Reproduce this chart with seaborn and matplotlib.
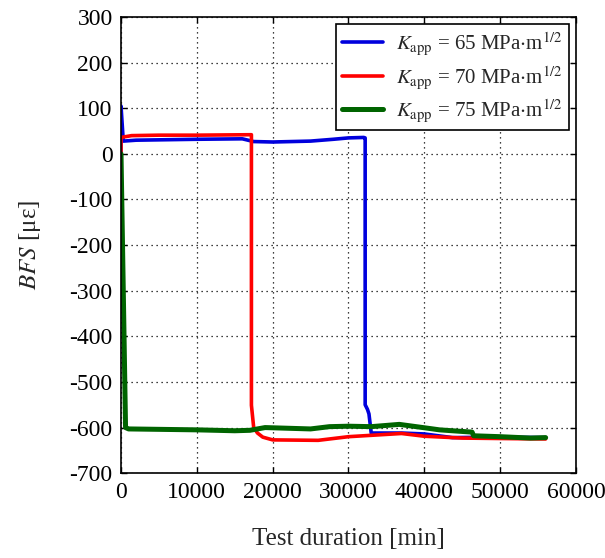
import numpy as np
import pandas as pd
import matplotlib
matplotlib.use("Agg")
import matplotlib.pyplot as plt
import seaborn as sns

# ---- data ----
labels = [r"$K_{\mathrm{app}}$ = 65 MPa$\cdot$m$^{1/2}$",
          r"$K_{\mathrm{app}}$ = 70 MPa$\cdot$m$^{1/2}$",
          r"$K_{\mathrm{app}}$ = 75 MPa$\cdot$m$^{1/2}$"]
colors = ["#0000dd", "#ff0000", "#006400"]

t65 = [0, 0, 300, 2000, 10000, 16000, 17500, 20000, 25000, 28000, 30000, 32000,
       32200, 32200, 32500, 32700, 33000, 37000, 40000, 43700, 50000, 56000]
v65 = [0, 105, 28, 30, 32, 33, 27, 26, 28, 32, 35, 36,
       35, -550, -560, -570, -612, -612, -614, -622, -621, -622]

t70 = [0, 0, 1400, 5000, 10000, 17200, 17200, 17500, 18000, 18700, 20000, 26000,
       30000, 37000, 40000, 45000, 50000, 56000]
v70 = [0, 36, 40, 41, 41, 42, -551, -600, -612, -621, -627, -628,
       -620, -613, -619, -623, -624, -625]

t75 = [0, 600, 1000, 10000, 15000, 17000, 19000, 25000, 27500, 30000, 33000,
       36700, 40700, 42000, 46300, 46500, 50000, 54000, 56000]
v75 = [0, -600, -603, -605, -607, -606, -600, -603, -598, -597, -598,
       -593, -602, -605, -610, -618, -620, -623, -622]

frames = []
for lab, t, v in zip(labels, [t65, t70, t75], [v65, v70, v75]):
    frames.append(pd.DataFrame({"t": t, "v": v, "series": lab}))
df = pd.concat(frames, ignore_index=True)

sns.set_theme(style="ticks")
plt.rcParams["font.family"] = ["Liberation Serif", "DejaVu Serif"]
plt.rcParams["mathtext.fontset"] = "stix"
plt.rcParams["axes.unicode_minus"] = False

fig = plt.figure(figsize=(6.05, 5.58), dpi=100)
ax = fig.add_axes([0.2, 0.152, 0.752, 0.8175])

lws = [2.6, 2.6, 3.6]
for lab, c, lw in zip(labels, colors, lws):
    sub = df[df["series"] == lab]
    sns.lineplot(data=sub, x="t", y="v", color=c, lw=lw, sort=False,
                 estimator=None, ax=ax, label=lab)

ax.set_xlim(0, 60000)
ax.set_ylim(-700, 300)
ax.set_xticks(np.arange(0, 60001, 10000))
ax.set_yticks(np.arange(-700, 301, 100))
ax.tick_params(direction="in", top=True, right=True, labelsize=17, length=4,
               width=1, colors="black", pad=6)
ax.grid(True, linestyle=(0, (1, 3)), color="black", linewidth=0.9)
for s in ax.spines.values():
    s.set_color("black")
    s.set_linewidth(1.2)

ax.set_xlabel("Test duration [min]", fontsize=18, labelpad=18)
ax.set_ylabel(r"$BFS$ [με]", fontsize=18, labelpad=19)

leg = ax.legend(loc="upper right", fontsize=15, frameon=True, fancybox=False,
                edgecolor="black", framealpha=1, handlelength=2.0,
                borderaxespad=0.35, labelspacing=0.3, borderpad=0.3,
                handletextpad=0.6)
leg.get_frame().set_linewidth(1.2)

fig.savefig("out.png", dpi=100)
